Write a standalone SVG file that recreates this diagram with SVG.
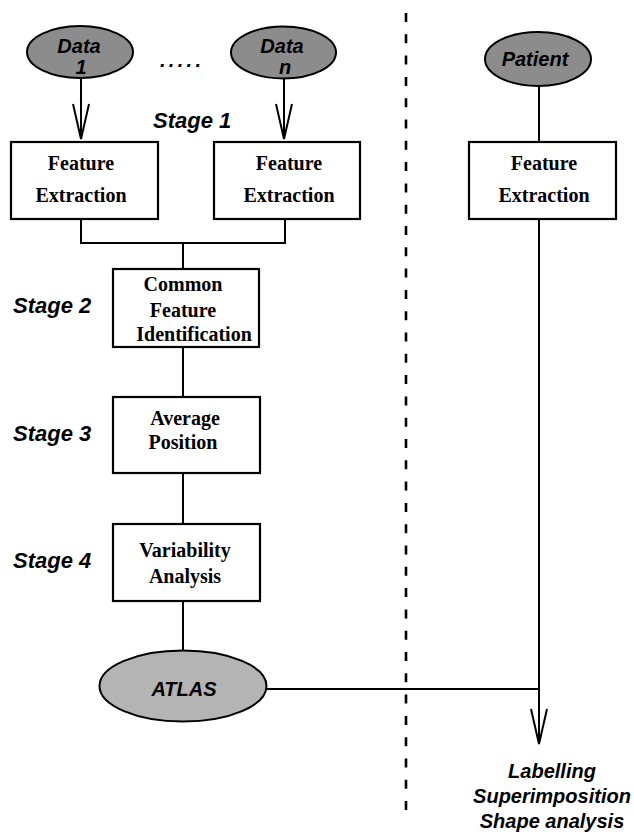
<svg xmlns="http://www.w3.org/2000/svg" width="634" height="832" viewBox="0 0 634 832">
<style>
.box{fill:#fff;stroke:#000;stroke-width:2.2}
.ell{fill:#8c8c8c;stroke:#000;stroke-width:2}
.atlas{fill:#b4b4b4;stroke:#000;stroke-width:2}
.ln{fill:none;stroke:#000;stroke-width:2}
.bt{font-family:"Liberation Serif",serif;font-weight:bold;font-size:20px;text-anchor:middle;fill:#000}
.it{font-family:"Liberation Sans",Arial,sans-serif;font-weight:bold;font-style:italic;font-size:20px;fill:#000}
.st{font-size:22px}
.mid{text-anchor:middle}
</style>
<defs>
<marker id="v" markerUnits="userSpaceOnUse" markerWidth="40" markerHeight="20" viewBox="-36 -10 40 20" refX="0" refY="0" orient="auto" overflow="visible">
<path d="M-35,-8 L0,0 L-35,8" fill="none" stroke="#000" stroke-width="2"/>
</marker>
</defs>

<g id="divider">
<line x1="406" y1="13" x2="406" y2="810" stroke="#000" stroke-width="2.6" stroke-dasharray="9 12.3"/>
</g>

<g id="connectors">
<path class="ln" d="M81,78 V139" marker-end="url(#v)"/>
<path class="ln" d="M284,79 V139" marker-end="url(#v)"/>
<path class="ln" d="M81,219 V243 H285 V219 M183,243 V269"/>
<path class="ln" d="M183,347 V397"/>
<path class="ln" d="M183,473 V524"/>
<path class="ln" d="M183,601 V650"/>
<path class="ln" d="M539,86 V142"/>
<path class="ln" d="M266,689 H539"/>
<path class="ln" d="M539,219 V744" marker-end="url(#v)"/>
</g>

<g id="data1">
<ellipse class="ell" cx="80" cy="52" rx="53" ry="26"/>
<text class="it mid" x="79" y="53">Data</text>
<text class="it mid" x="81" y="74">1</text>
</g>
<g id="dots">
<text class="it" x="160" y="67" font-size="24" letter-spacing="3.3">.....</text>
</g>
<g id="datan">
<ellipse class="ell" cx="283.5" cy="52.5" rx="52.5" ry="26"/>
<text class="it mid" x="282" y="53">Data</text>
<text class="it mid" x="285" y="74">n</text>
</g>
<g id="patient">
<ellipse class="ell" cx="538" cy="59" rx="53" ry="27"/>
<text class="it mid" x="535" y="66">Patient</text>
</g>

<g id="stage1"><text class="it st" x="153" y="128">Stage 1</text></g>
<g id="stage2"><text class="it st" x="13" y="313">Stage 2</text></g>
<g id="stage3"><text class="it st" x="13" y="441">Stage 3</text></g>
<g id="stage4"><text class="it st" x="13" y="568">Stage 4</text></g>

<g id="fe1">
<rect class="box" x="11" y="142" width="147" height="77"/>
<text class="bt" x="81" y="170">Feature</text>
<text class="bt" x="81" y="202">Extraction</text>
</g>
<g id="fe2">
<rect class="box" x="214" y="142" width="146" height="77"/>
<text class="bt" x="289" y="170">Feature</text>
<text class="bt" x="289" y="202">Extraction</text>
</g>
<g id="fe3">
<rect class="box" x="469" y="142" width="147" height="77"/>
<text class="bt" x="544" y="170">Feature</text>
<text class="bt" x="544" y="202">Extraction</text>
</g>

<g id="common">
<rect class="box" x="113" y="269" width="146" height="78"/>
<text class="bt" x="183" y="291">Common</text>
<text class="bt" x="183" y="317">Feature</text>
<text class="bt" x="194" y="341">Identification</text>
</g>
<g id="average">
<rect class="box" x="113" y="397" width="147" height="76"/>
<text class="bt" x="185" y="425">Average</text>
<text class="bt" x="183" y="449">Position</text>
</g>
<g id="variability">
<rect class="box" x="113" y="524" width="147" height="77"/>
<text class="bt" x="185" y="557">Variability</text>
<text class="bt" x="185" y="583">Analysis</text>
</g>

<g id="atlas">
<ellipse class="atlas" cx="183" cy="686" rx="83.5" ry="35.5"/>
<text class="it mid" x="184" y="696" font-size="23">ATLAS</text>
</g>

<g id="outputs">
<text class="it mid" x="552" y="778">Labelling</text>
<text class="it mid" x="552" y="803">Superimposition</text>
<text class="it mid" x="552" y="828">Shape analysis</text>
</g>
</svg>
